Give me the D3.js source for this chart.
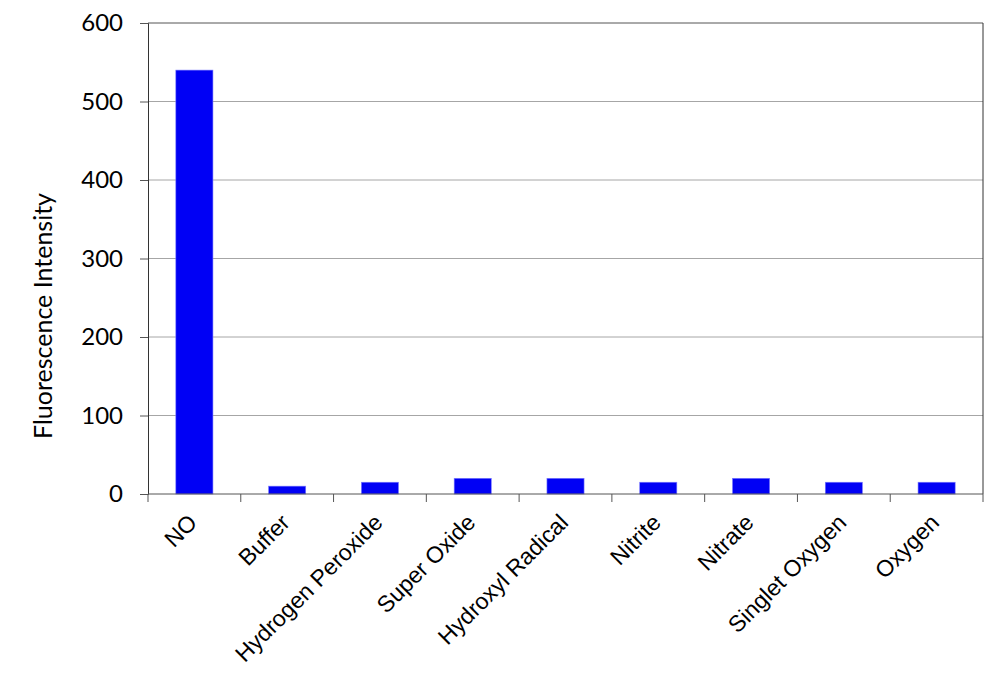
<!DOCTYPE html>
<html>
<head>
<meta charset="utf-8">
<script src="https://cdn.jsdelivr.net/npm/d3@7"></script>
<style>
  body { margin: 0; background: #fff; }
  svg { display: block; }
</style>
</head>
<body>
<svg id="chart"></svg>
<script>
const categories = ["NO", "Buffer", "Hydrogen Peroxide", "Super Oxide", "Hydroxyl Radical",
  "Nitrite", "Nitrate", "Singlet Oxygen", "Oxygen"];
const values = [540, 10, 15, 20, 20, 15, 20, 15, 15];
const yTicks = [0, 100, 200, 300, 400, 500, 600];

const size = { w: 1000, h: 674 };
const plot = { l: 148, r: 983, t: 23, b: 494 };

const svg = d3.select("svg#chart").attr("width", size.w).attr("height", size.h);

const x = d3.scaleBand()
  .domain(categories)
  .range([plot.l, plot.r])
  .paddingInner(0.6)
  .paddingOuter(0.3);

const y = d3.scaleLinear().domain([0, 600]).range([plot.b, plot.t]);

// gridlines
svg.append("g")
  .classed("grid", true)
  .selectAll("line")
  .data(yTicks.filter((d) => d > 0))
  .join("line")
  .attr("x1", plot.l)
  .attr("x2", plot.r)
  .attr("y1", (d) => y(d))
  .attr("y2", (d) => y(d))
  .attr("stroke", (d) => (d === 600 ? "#555" : "#a6a6a6"))
  .attr("stroke-width", 1);

// right border
svg.append("line")
  .attr("x1", plot.r).attr("x2", plot.r)
  .attr("y1", plot.t).attr("y2", plot.b)
  .attr("stroke", "#333");

// bars
svg.append("g")
  .classed("bars", true)
  .selectAll("rect")
  .data(values)
  .join("rect")
  .attr("x", (d, i) => x(categories[i]))
  .attr("y", (d) => y(d))
  .attr("width", x.bandwidth())
  .attr("height", (d) => y(0) - y(d))
  .attr("fill", "#0000f5")
  .attr("stroke", "#7a7aff")
  .attr("stroke-width", 0.6);

// y axis
const yAxis = d3.axisLeft(y).tickValues(yTicks).tickSize(8).tickPadding(17);
svg.append("g")
  .classed("axis-y", true)
  .attr("transform", `translate(${plot.l}, 0)`)
  .call(yAxis)
  .call((g) => g.select(".domain").attr("stroke", "#333"))
  .call((g) => g.selectAll(".tick line").attr("stroke", "#555"))
  .call((g) => g.selectAll(".tick text")
    .attr("font-family", "Lato, 'Open Sans', sans-serif")
    .attr("font-size", 24)
    .attr("fill", "#000"));

// x axis line and ticks at category boundaries
const bounds = d3.range(categories.length + 1).map((i) => plot.l + i * x.step());
svg.append("line")
  .attr("x1", plot.l).attr("x2", plot.r)
  .attr("y1", plot.b).attr("y2", plot.b)
  .attr("stroke", "#555");
svg.append("g")
  .classed("axis-x", true)
  .selectAll("line")
  .data(bounds)
  .join("line")
  .attr("x1", (d) => d).attr("x2", (d) => d)
  .attr("y1", plot.b).attr("y2", plot.b + 8)
  .attr("stroke", "#555");

svg.append("g")
  .classed("x-labels", true)
  .selectAll("text")
  .data(categories)
  .join("text")
  .attr("transform", (d) => `translate(${x(d) + x.bandwidth() / 2 + 4}, 524) rotate(-45)`)
  .attr("text-anchor", "end")
  .attr("font-family", "'Liberation Sans', Arial, sans-serif")
  .attr("font-size", 23)
  .attr("fill", "#000")
  .text((d) => d);

// y label
svg.append("text")
  .attr("transform", `translate(52, 316) rotate(-90)`)
  .attr("text-anchor", "middle")
  .attr("font-family", "Lato, 'Open Sans', sans-serif")
  .attr("font-size", 25)
  .attr("fill", "#000")
  .text("Fluorescence Intensity");
</script>
</body>
</html>
